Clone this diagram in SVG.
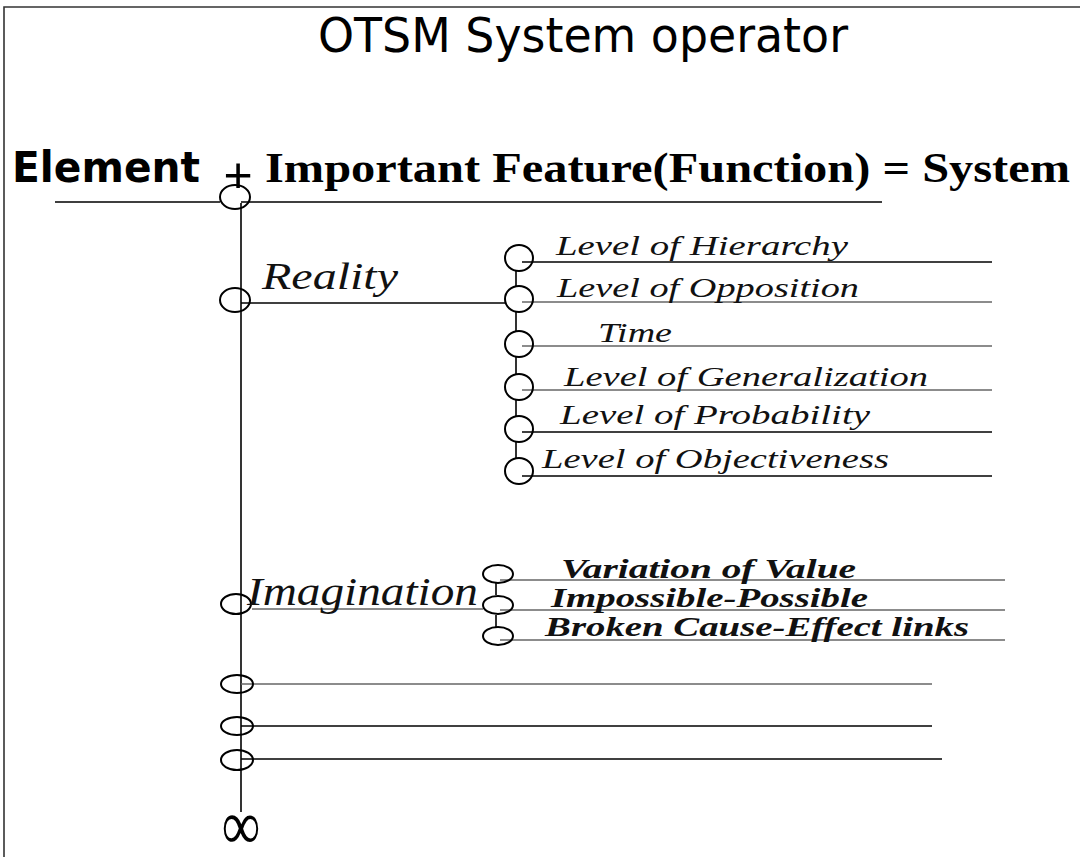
<svg xmlns="http://www.w3.org/2000/svg" width="1080" height="857" viewBox="0 0 1080 857">
<style>
.ln{stroke:#000;stroke-width:1.6;fill:none}
.lg{stroke:#666;stroke-width:1.4;fill:none}
.nd{stroke:#000;stroke-width:2;fill:none}
.sub{font-family:"Liberation Serif",serif;font-style:italic;font-size:27px;fill:#111}
.img{font-family:"Liberation Serif",serif;font-style:italic;font-weight:bold;font-size:28px;fill:#111}
.big{font-family:"Liberation Serif",serif;font-style:italic;fill:#111}
</style>
<rect width="1080" height="857" fill="#fff"/>
<path d="M4 857 V7 H1080" stroke="#333" stroke-width="1.6" fill="none"/>
<text x="318" y="52" font-family="DejaVu Sans, sans-serif" font-size="48" textLength="530" lengthAdjust="spacingAndGlyphs" fill="#000">OTSM System operator</text>
<text x="12" y="182" font-family="DejaVu Sans, sans-serif" font-weight="bold" font-size="42" textLength="188" lengthAdjust="spacingAndGlyphs" fill="#000">Element</text>
<text x="238" y="192" text-anchor="middle" font-family="Liberation Sans, sans-serif" font-size="50" fill="#000">+</text>
<text x="265" y="182" font-family="Liberation Serif, serif" font-weight="bold" font-size="42" textLength="805" lengthAdjust="spacingAndGlyphs" fill="#000">Important Feature(Function) = System</text>

<g id="connectors">
<path class="ln" d="M55 202 H220 M241 202 H882"/>
<path class="ln" d="M241 203 V812"/>
<path class="ln" d="M241 303 H505"/>
<path class="ln" d="M516 271 V286 M516 312 V331 M516 357 V374 M516 400 V416 M516 442 V458"/>
<path class="ln" d="M522 262 H992"/>
<path class="lg" d="M522 302 H992"/>
<path class="lg" d="M522 346 H992"/>
<path class="lg" d="M522 390 H992"/>
<path class="ln" d="M522 432 H992"/>
<path class="ln" d="M522 476 H992"/>
<path class="lg" d="M252 609 H483"/>
<path class="ln" d="M496 583 V595 M496 615 V627"/>
<path class="lg" d="M500 580 H1005"/>
<path class="lg" d="M500 610 H1005"/>
<path class="lg" d="M500 640 H1005"/>
<path class="lg" d="M241 684 H932"/>
<path class="ln" d="M241 726 H932"/>
<path class="ln" d="M241 759 H942"/>
</g>

<g id="node-system"><ellipse class="nd" cx="235" cy="197" rx="15" ry="12"/></g>
<g id="node-reality"><ellipse class="nd" cx="235" cy="300" rx="15" ry="12"/>
<text class="big" x="262" y="289" font-size="38" textLength="136" lengthAdjust="spacingAndGlyphs">Reality</text></g>
<g id="node-hierarchy"><ellipse class="nd" cx="519" cy="258" rx="14" ry="13"/>
<text class="sub" x="556" y="255" textLength="292" lengthAdjust="spacingAndGlyphs">Level of Hierarchy</text></g>
<g id="node-opposition"><ellipse class="nd" cx="519" cy="299" rx="14" ry="13"/>
<text class="sub" x="557" y="297" textLength="302" lengthAdjust="spacingAndGlyphs">Level of Opposition</text></g>
<g id="node-time"><ellipse class="nd" cx="519" cy="344" rx="14" ry="13"/>
<text class="sub" x="598" y="342" textLength="74" lengthAdjust="spacingAndGlyphs">Time</text></g>
<g id="node-generalization"><ellipse class="nd" cx="519" cy="387" rx="14" ry="13"/>
<text class="sub" x="564" y="386" textLength="364" lengthAdjust="spacingAndGlyphs">Level of Generalization</text></g>
<g id="node-probability"><ellipse class="nd" cx="519" cy="429" rx="14" ry="13"/>
<text class="sub" x="560" y="424" textLength="310" lengthAdjust="spacingAndGlyphs">Level of Probability</text></g>
<g id="node-objectiveness"><ellipse class="nd" cx="519" cy="471" rx="14" ry="13"/>
<text class="sub" x="542" y="468" textLength="347" lengthAdjust="spacingAndGlyphs">Level of Objectiveness</text></g>

<g id="node-imagination"><ellipse class="nd" cx="236" cy="604" rx="15" ry="10"/>
<text class="big" x="247" y="605" font-size="40" textLength="231" lengthAdjust="spacingAndGlyphs">Imagination</text></g>
<g id="node-variation"><ellipse class="nd" cx="498" cy="574" rx="15" ry="9"/>
<text class="img" x="561" y="578" textLength="295" lengthAdjust="spacingAndGlyphs">Variation of Value</text></g>
<g id="node-impossible"><ellipse class="nd" cx="498" cy="605" rx="15" ry="9"/>
<text class="img" x="551" y="607" textLength="317" lengthAdjust="spacingAndGlyphs">Impossible-Possible</text></g>
<g id="node-broken"><ellipse class="nd" cx="498" cy="636" rx="15" ry="9"/>
<text class="img" x="545" y="636" textLength="424" lengthAdjust="spacingAndGlyphs">Broken Cause-Effect links</text></g>

<g id="node-level7"><ellipse class="nd" cx="237" cy="684" rx="16" ry="9"/></g>
<g id="node-level8"><ellipse class="nd" cx="237" cy="726" rx="16" ry="9"/></g>
<g id="node-level9"><ellipse class="nd" cx="237" cy="760" rx="16" ry="10"/></g>
<g id="node-infinity"><text x="0" y="0" text-anchor="middle" font-family="Liberation Serif, serif" font-size="54" fill="#000" transform="translate(241 849) scale(1 1.3)">∞</text></g>
</svg>
